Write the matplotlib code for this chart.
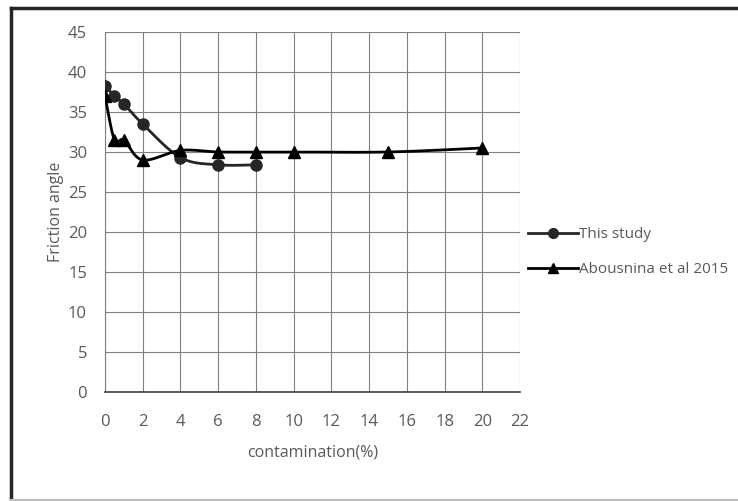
import numpy as np
import matplotlib.pyplot as plt
from matplotlib.lines import Line2D

# friction angle vs. contamination
study_x = [0, 0.5, 1, 2, 4, 6, 8]
study_y = [38.3, 37.0, 36.0, 33.5, 29.3, 28.4, 28.4]
abou_x = [0, 0.5, 1, 2, 4, 6, 8, 10, 15, 20]
abou_y = [37.0, 31.5, 31.5, 29.0, 30.2, 30.0, 30.0, 30.0, 30.0, 30.5]
x_ticks = list(range(0, 24, 2))
y_ticks = list(range(0, 50, 5))

GREY = '#595959'
plt.rcParams['font.family'] = ['Open Sans', 'DejaVu Sans']


def smoothCurve(xs, ys, n=30, tension=0.5):
    # Catmull-Rom style curve through the points (like a spreadsheet "smoothed line")
    pts = np.column_stack([xs, ys]).astype(float)
    p = np.vstack([pts[0], pts, pts[-1]])
    out = []
    t = np.linspace(0, 1, n)[:, None]
    for i in range(1, len(p) - 2):
        p0, p1, p2, p3 = p[i - 1], p[i], p[i + 1], p[i + 2]
        m1 = tension * (p2 - p0)
        m2 = tension * (p3 - p1)
        h00 = 2 * t**3 - 3 * t**2 + 1
        h10 = t**3 - 2 * t**2 + t
        h01 = -2 * t**3 + 3 * t**2
        h11 = t**3 - t**2
        out.append(h00 * p1 + h10 * m1 + h01 * p2 + h11 * m2)
    c = np.vstack(out)
    return c[:, 0], c[:, 1]


fig = plt.figure(figsize=(7.38, 5.01), dpi=100)
ax = fig.add_axes([105 / 738, 1 - 392 / 501, 415 / 738, 360 / 501])

sx, sy = smoothCurve(study_x, study_y)
ax.plot(sx, sy, color='#262626', lw=2, zorder=3)
ax.plot(study_x, study_y, 'o', color='#262626', ms=8, zorder=4)
ax_, ay_ = smoothCurve(abou_x, abou_y)
ax.plot(ax_, ay_, color='black', lw=2, zorder=3)
ax.plot(abou_x, abou_y, '^', color='black', ms=8, zorder=4)

ax.set_xlim(0, 22)
ax.set_ylim(0, 45)
ax.set_xticks(x_ticks)
ax.set_yticks(y_ticks)
ax.grid(True, color='#808080', lw=0.8)
ax.set_axisbelow(True)
for s in ['top', 'right']:
    ax.spines[s].set_visible(False)
ax.spines['left'].set_color('#808080')
ax.spines['left'].set_linewidth(0.8)
ax.spines['bottom'].set_color('#404040')
ax.spines['bottom'].set_linewidth(1.2)
ax.tick_params(length=0, labelsize=12, labelcolor=GREY, pad=16)
ax.tick_params(axis='y', pad=13)
ax.set_xlabel('contamination(%)', fontsize=11.5, color=GREY, labelpad=10)
ax.set_ylabel('Friction angle', fontsize=11.5, color=GREY, labelpad=3)

handles = [
    Line2D([], [], color='#262626', lw=2, marker='o', ms=7),
    Line2D([], [], color='black', lw=2, marker='^', ms=7),
]
fig.legend(handles, ['This study', 'Abousnina et al 2015'],
           loc='center left', bbox_to_anchor=(514 / 738, 1 - 252 / 501),
           frameon=False, fontsize=11, labelcolor=GREY,
           handlelength=3.3, handletextpad=0.05, labelspacing=1.3)

# outer frame
fig.add_artist(Line2D([11 / 738, 11 / 738], [0, 1 - 8 / 501], color='#262626', lw=2.5))
fig.add_artist(Line2D([11 / 738, 1], [1 - 8 / 501, 1 - 8 / 501], color='#262626', lw=2.5))
fig.add_artist(Line2D([11 / 738, 1], [1.5 / 501, 1.5 / 501], color='#bfbfbf', lw=1.5))

fig.savefig('out.png', dpi=100)
